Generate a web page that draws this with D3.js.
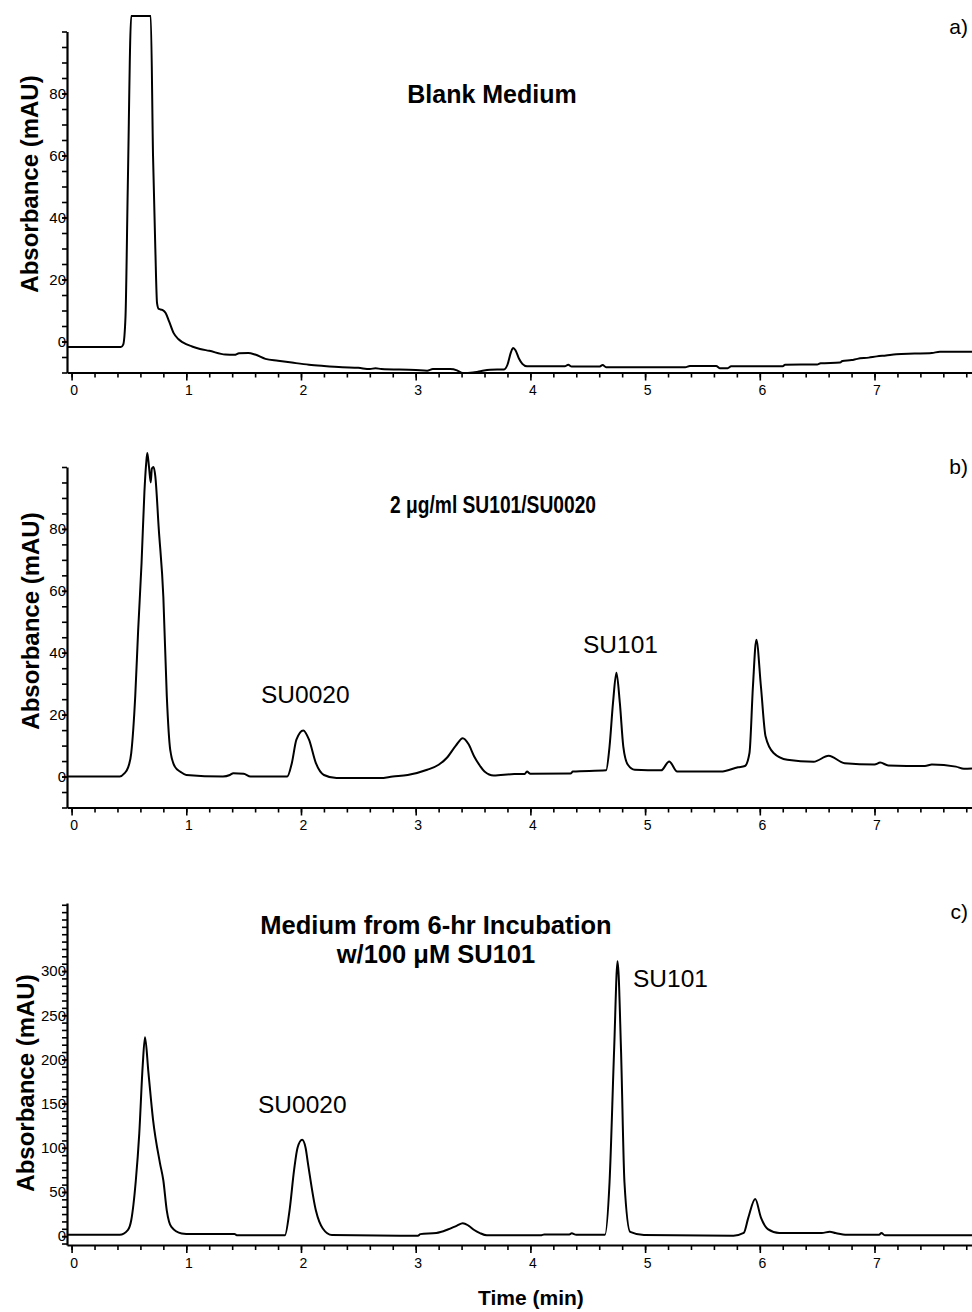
<!DOCTYPE html>
<html><head><meta charset="utf-8">
<script src="https://cdn.jsdelivr.net/npm/d3@7"></script>
<style>body{margin:0;background:#fff} text{font-family:"Liberation Sans",Arial,Helvetica,sans-serif;fill:#000}</style>
</head><body><svg id="c" width="972" height="1312"></svg>
<script>
// ---- data ----
const xTickLabels = [0,1,2,3,4,5,6,7];
const yTicksAB = [0,20,40,60,80];
const yTicksC = [0,50,100,150,200,250,300];

const timeA = [-0.04,0.43,0.45,0.47,0.49,0.52,0.69,0.71,0.73,0.745,0.76,0.79,0.82,0.85,0.89,0.93,0.97,1.05,1.12,1.2,1.34,1.42,1.46,1.54,1.6,1.69,1.8,1.92,2.07,2.2,2.36,2.5,2.6,2.65,2.7,3.0,3.1,3.15,3.3,3.36,3.41,3.5,3.55,3.65,3.77,3.8,3.83,3.85,3.87,3.9,3.93,3.97,4.3,4.33,4.36,4.6,4.63,4.66,5.35,5.39,5.62,5.65,5.72,5.75,6.2,6.22,6.5,6.53,6.7,6.72,6.8,6.85,6.95,7.02,7.1,7.19,7.35,7.5,7.57,7.85];
const absA  = [-1.8,-1.8,-1.0,8,50,105,105,60,30,12.4,10.5,10.2,9.2,6.5,2.7,0.8,-0.3,-1.6,-2.4,-3.0,-4.2,-4.3,-3.8,-3.7,-4.2,-5.6,-6.2,-6.8,-7.5,-7.9,-8.3,-8.5,-8.9,-8.6,-8.9,-9.2,-9.4,-8.9,-8.9,-9.3,-10.2,-10,-9.7,-9.1,-9.0,-7.5,-3.5,-2.1,-2.8,-5.5,-7.2,-8.0,-8.0,-7.5,-8.1,-8.1,-7.6,-8.3,-8.3,-7.9,-7.9,-8.6,-8.6,-8.0,-8.0,-7.5,-7.4,-7.0,-6.8,-6.3,-6.0,-5.6,-5.2,-4.8,-4.5,-4.1,-3.9,-3.7,-3.3,-3.3];

const timeB = [-0.04,0.42,0.46,0.49,0.52,0.555,0.58,0.61,0.635,0.65,0.66,0.675,0.69,0.70,0.715,0.73,0.76,0.80,0.83,0.86,0.9,0.95,1.0,1.32,1.38,1.41,1.5,1.56,1.88,1.92,1.96,2.02,2.07,2.13,2.2,2.31,2.69,2.8,2.93,3.1,3.2,3.27,3.35,3.41,3.46,3.51,3.56,3.6,3.68,3.86,3.95,3.97,4.0,4.35,4.37,4.66,4.69,4.72,4.75,4.78,4.81,4.85,4.91,5.14,5.21,5.28,5.66,5.81,5.87,5.91,5.94,5.97,6.01,6.05,6.12,6.24,6.47,6.6,6.74,7.0,7.05,7.12,7.44,7.5,7.71,7.78,7.85];
const absB  = [0,0,1,2.7,7.6,26,47,69,92,101,104.5,100,95,99.5,100,97,80,58,26,8.6,3.2,1.5,0.5,0,0.5,1.1,0.9,0,0,4.3,11.9,14.9,11.9,4.3,0.5,-0.5,-0.5,0,0.5,2.2,3.8,6,10,12.4,10.5,6.5,3.5,1.6,0.3,0.8,0.8,1.6,0.9,1.0,1.6,2.0,9.7,23.7,33.5,23.7,9.7,3.8,2.2,2.0,4.9,1.6,1.6,3.0,3.4,7.6,29,44.2,29,13,7.6,5.4,4.8,6.7,4.3,3.9,4.5,3.6,3.4,3.9,3.2,2.5,2.6];

const timeC = [-0.04,0.42,0.49,0.52,0.56,0.59,0.62,0.64,0.67,0.71,0.77,0.80,0.83,0.87,0.96,1.0,1.42,1.44,1.86,1.90,1.94,1.97,2.01,2.04,2.06,2.13,2.19,2.27,3.02,3.04,3.18,3.28,3.36,3.41,3.46,3.51,3.56,3.62,4.09,4.12,4.34,4.36,4.40,4.65,4.69,4.73,4.76,4.79,4.82,4.87,4.99,5.77,5.86,5.90,5.96,6.01,6.07,6.17,6.54,6.61,6.66,6.76,7.04,7.06,7.09,7.85];
const absC  = [1.5,1.5,6.8,18,63,116,193,225,185,132,83,63,29,10.5,3,2.5,2.5,1,1,29,75,100,109,100,83,29,8.7,1.2,0.5,2.3,3.5,7.5,12,14.7,12,7,3.5,1,1,2,2,3.2,1.6,1.5,61,211,311,211,61,4.8,1.2,0.5,3.6,21,42,21,8,3.6,3.6,5,3.5,1.5,1.5,3.6,1,1];

const panelLetters = ["a)","b)","c)"];
const titleA = ["Blank Medium"];
const titleB = ["2 μg/ml SU101/SU0020"];
const titleC = ["Medium from 6-hr Incubation","w/100 μM SU101"];
const yLabel = "Absorbance (mAU)";
const xLabel = "Time (min)";

// ---- drawing ----
const svg = d3.select("#c");
const x = d3.scaleLinear().domain([-0.04, 7.85]).range([67, 972]);

const panels = [
  {t: timeA, v: absA, dom:[-10,100], rng:[372.5,31.5], major: yTicksAB, minorStep: 5, letter: panelLetters[0], letterY: 34,
   title: titleA, titleX: 492, titleY: 103, titleSize: 25, titleLen: null, ylabX: 38, ylabY: 184, ann: []},
  {t: timeB, v: absB, dom:[-10,100], rng:[807.5,467], major: yTicksAB, minorStep: 5, letter: panelLetters[1], letterY: 474,
   title: titleB, titleX: 493, titleY: 513, titleSize: 23, titleLen: 206, ylabX: 39, ylabY: 621,
   ann: [{s:"SU0020", x:261, y:703},{s:"SU101", x:583, y:653}]},
  {t: timeC, v: absC, dom:[-10,377], rng:[1245,903], major: yTicksC, minorStep: 50/6, letter: panelLetters[2], letterY: 919,
   title: titleC, titleX: 436, titleY: 934, titleSize: 25.5, titleLen: null, ylabX: 34, ylabY: 1083,
   ann: [{s:"SU0020", x:258, y:1113},{s:"SU101", x:633, y:987}]}
];

panels.forEach(p => {
  const y = d3.scaleLinear().domain(p.dom).range(p.rng);
  const g = svg.append("g");
  const xAxisY = p.rng[0];

  const minor = d3.range(0, p.dom[1] + 0.01, p.minorStep).concat(d3.range(-p.minorStep, p.dom[0] - 0.01, -p.minorStep));
  g.append("g").attr("transform", `translate(${x.range()[0]},0)`)
    .call(d3.axisLeft(y).tickValues(minor).tickSize(5).tickSizeOuter(0).tickFormat(""))
    .call(s => { s.select(".domain").attr("stroke-width", 2.2); s.selectAll(".tick line").attr("stroke-width", 1.6); });
  g.append("g").attr("transform", `translate(${x.range()[0]},0)`)
    .call(d3.axisLeft(y).tickValues(p.major).tickSize(5).tickSizeOuter(0).tickPadding(-4))
    .call(s => { s.select(".domain").remove(); s.selectAll(".tick line").attr("stroke-width", 1.6);
                 s.selectAll("text").style("font-size","15px").style("font-family",'"Liberation Sans",Arial,sans-serif'); });

  g.append("g").attr("transform", `translate(0,${xAxisY})`)
    .call(d3.axisBottom(x).tickValues(d3.range(0, 7.81, 0.2)).tickSize(5).tickSizeOuter(0).tickFormat(""))
    .call(s => { s.select(".domain").attr("stroke-width", 2.2); s.selectAll(".tick line").attr("stroke-width", 1.6); });
  g.append("g").attr("transform", `translate(0,${xAxisY})`)
    .call(d3.axisBottom(x).tickValues(xTickLabels).tickSize(8).tickSizeOuter(0).tickPadding(5))
    .call(s => { s.select(".domain").remove(); s.selectAll(".tick line").attr("stroke-width", 1.6);
                 s.selectAll("text").attr("dx", 2).style("font-size","14px").style("font-family",'"Liberation Sans",Arial,sans-serif'); });

  const line = d3.line().curve(d3.curveMonotoneX).x(d => x(d[0])).y(d => y(d[1]));
  g.append("path").datum(d3.zip(p.t, p.v)).attr("d", line)
    .attr("fill","none").attr("stroke","#000").attr("stroke-width",2).attr("stroke-linejoin","round");

  g.append("text").attr("x", 968).attr("y", p.letterY).attr("text-anchor","end")
    .style("font-size","21px").text(p.letter);

  p.title.forEach((s,i) => {
    const t = g.append("text").attr("x", p.titleX).attr("y", p.titleY + i*29).attr("text-anchor","middle")
      .style("font-size", p.titleSize + "px").style("font-weight","bold").text(s);
    if (p.titleLen) t.attr("textLength", p.titleLen).attr("lengthAdjust", "spacingAndGlyphs");
  });

  p.ann.forEach(a => {
    g.append("text").attr("x", a.x).attr("y", a.y).style("font-size","24.5px").text(a.s);
  });

  g.append("text").attr("transform", `translate(${p.ylabX},${p.ylabY}) rotate(-90)`).attr("text-anchor","middle")
    .style("font-size","24px").style("font-weight","bold").text(yLabel);
});

svg.append("text").attr("x", 478).attr("y", 1305)
  .style("font-size","21px").style("font-weight","bold").text(xLabel);
</script></body></html>
